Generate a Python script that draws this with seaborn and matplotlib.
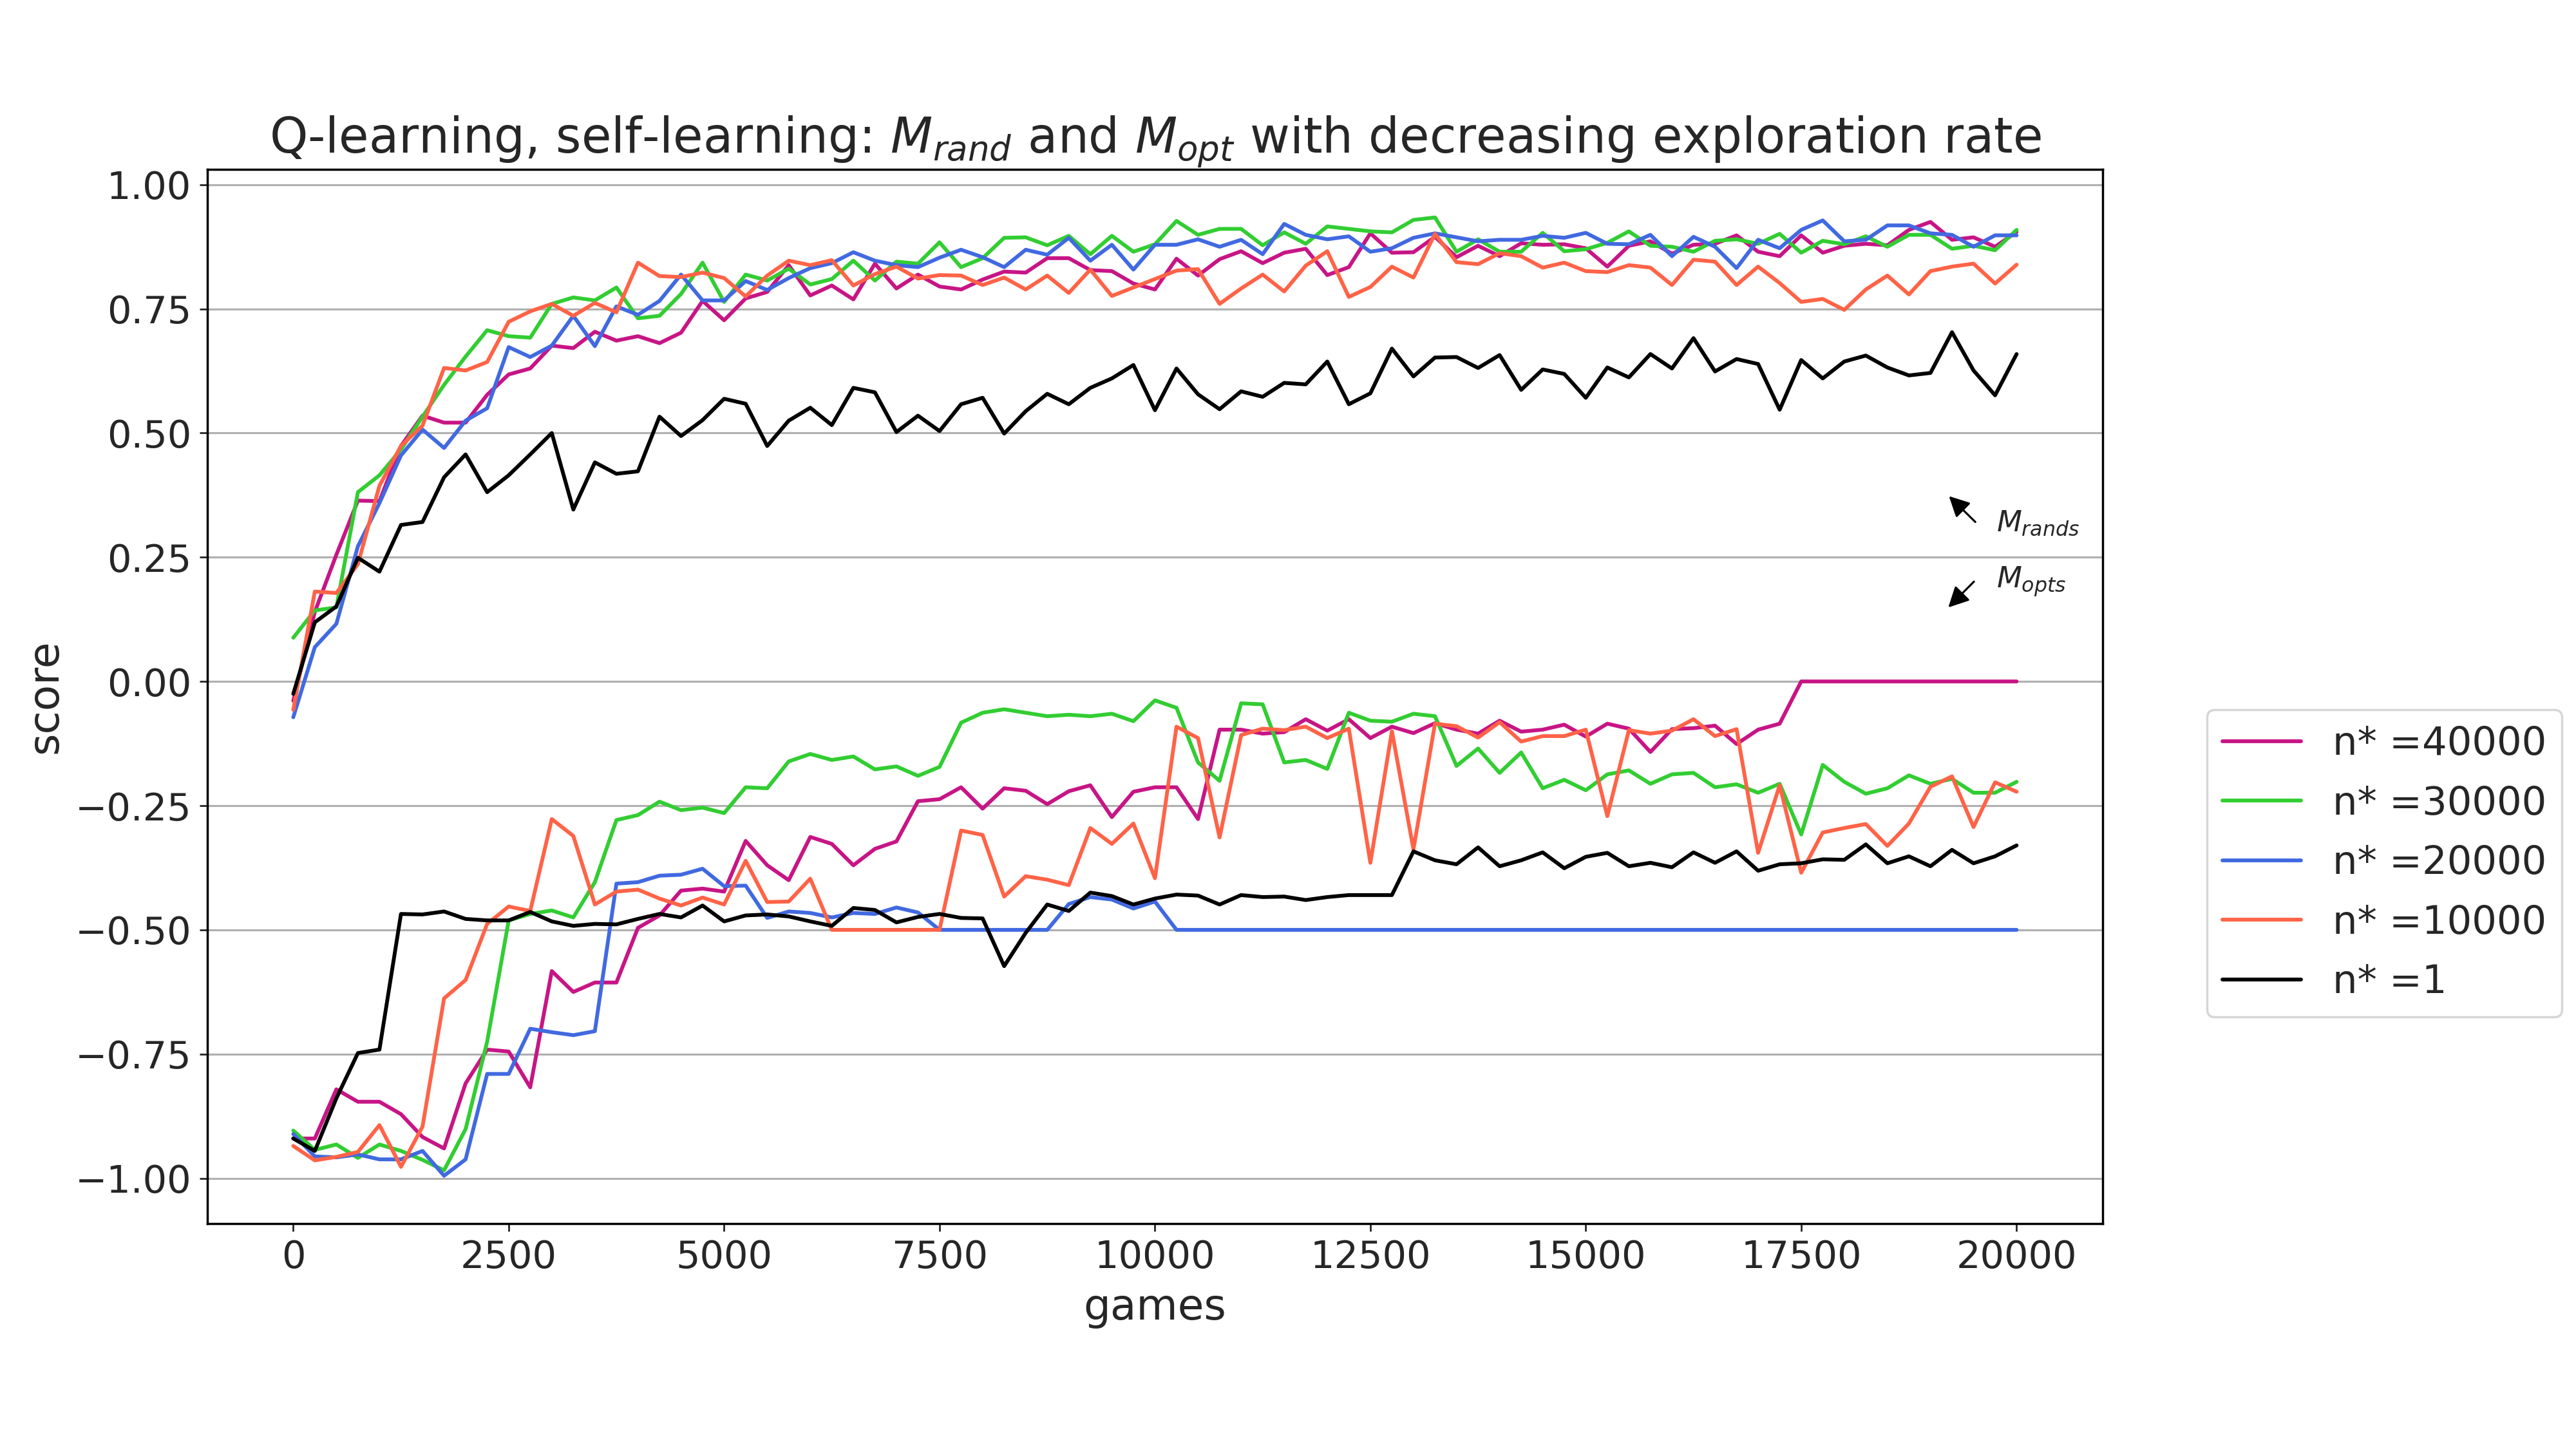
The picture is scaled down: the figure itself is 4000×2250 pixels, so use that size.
import matplotlib
matplotlib.use("Agg")
import matplotlib.pyplot as plt
import seaborn as sns
import pandas as pd

# ===================================================================
# Data: score every 250 games, upper curves = M_rand, lower = M_opt
# ===================================================================

GAMES = list(range(0, 20001, 250))

N_STAR = ["40000", "30000", "20000", "10000", "1"]
COLORS = ["mediumvioletred", "limegreen", "royalblue", "tomato", "black"]

RAND_40000 = [
    -0.039, 0.14, 0.255, 0.364, 0.363, 0.474, 0.535, 0.521, 0.521, 0.577, 0.618, 0.630, 0.676, 0.671,
    0.704, 0.686, 0.695, 0.681, 0.702, 0.766, 0.727, 0.771, 0.784, 0.838, 0.777, 0.797, 0.769,
    0.841, 0.791, 0.819, 0.795, 0.789, 0.809, 0.825, 0.823, 0.852, 0.852, 0.828, 0.826, 0.801, 0.789,
    0.851, 0.817, 0.850, 0.866, 0.842, 0.863, 0.871, 0.818, 0.834, 0.902, 0.863, 0.864, 0.895,
    0.854, 0.877, 0.856, 0.882, 0.879, 0.880, 0.872, 0.835, 0.877, 0.886, 0.861, 0.879, 0.881, 0.898,
    0.865, 0.856, 0.898, 0.863, 0.877, 0.881, 0.878, 0.909, 0.925, 0.889, 0.894, 0.875, 0.905,
]
RAND_30000 = [
    0.088, 0.143, 0.149, 0.381, 0.415, 0.467, 0.533, 0.597, 0.654, 0.707, 0.695, 0.692, 0.760, 0.773,
    0.767, 0.793, 0.731, 0.736, 0.780, 0.843, 0.764, 0.819, 0.807, 0.831, 0.799, 0.810, 0.847,
    0.807, 0.845, 0.841, 0.884, 0.834, 0.852, 0.893, 0.894, 0.878, 0.897, 0.860, 0.897, 0.865, 0.880,
    0.927, 0.899, 0.911, 0.911, 0.878, 0.904, 0.881, 0.916, 0.911, 0.906, 0.904, 0.929, 0.934,
    0.865, 0.890, 0.865, 0.865, 0.903, 0.866, 0.870, 0.883, 0.906, 0.877, 0.875, 0.865, 0.887, 0.890,
    0.881, 0.901, 0.863, 0.887, 0.880, 0.896, 0.875, 0.899, 0.899, 0.871, 0.877, 0.868, 0.909,
]
RAND_20000 = [
    -0.072, 0.069, 0.116, 0.272, 0.359, 0.455, 0.507, 0.470, 0.525, 0.550, 0.673, 0.653, 0.676, 0.736,
    0.675, 0.755, 0.738, 0.766, 0.819, 0.767, 0.767, 0.806, 0.788, 0.812, 0.832, 0.842, 0.864,
    0.847, 0.838, 0.834, 0.853, 0.869, 0.854, 0.834, 0.869, 0.859, 0.893, 0.847, 0.879, 0.829, 0.879,
    0.879, 0.890, 0.875, 0.889, 0.860, 0.921, 0.899, 0.890, 0.896, 0.865, 0.872, 0.893, 0.902,
    0.894, 0.886, 0.889, 0.889, 0.897, 0.893, 0.903, 0.881, 0.880, 0.899, 0.856, 0.895, 0.875, 0.832,
    0.889, 0.872, 0.909, 0.928, 0.886, 0.889, 0.918, 0.918, 0.902, 0.899, 0.875, 0.898, 0.898,
]
RAND_10000 = [
    -0.057, 0.181, 0.178, 0.236, 0.394, 0.474, 0.515, 0.631, 0.626, 0.643, 0.724, 0.745, 0.760, 0.736,
    0.762, 0.743, 0.843, 0.816, 0.814, 0.823, 0.812, 0.775, 0.817, 0.847, 0.838, 0.848, 0.797,
    0.820, 0.835, 0.811, 0.818, 0.817, 0.798, 0.813, 0.789, 0.817, 0.782, 0.829, 0.776, 0.793, 0.810,
    0.827, 0.830, 0.760, 0.791, 0.819, 0.785, 0.837, 0.866, 0.774, 0.794, 0.835, 0.813, 0.901,
    0.844, 0.840, 0.862, 0.856, 0.833, 0.843, 0.826, 0.824, 0.838, 0.833, 0.798, 0.849, 0.845, 0.798,
    0.835, 0.802, 0.764, 0.770, 0.748, 0.789, 0.817, 0.779, 0.826, 0.835, 0.841, 0.801, 0.839,
]
RAND_1 = [
    -0.025, 0.119, 0.151, 0.249, 0.221, 0.315, 0.321, 0.411, 0.457, 0.381, 0.415, 0.457, 0.500, 0.346,
    0.441, 0.418, 0.423, 0.533, 0.494, 0.526, 0.569, 0.559, 0.474, 0.525, 0.551, 0.516, 0.591,
    0.582, 0.502, 0.535, 0.504, 0.558, 0.571, 0.499, 0.544, 0.579, 0.558, 0.591, 0.610, 0.637, 0.546,
    0.630, 0.578, 0.548, 0.584, 0.573, 0.601, 0.598, 0.644, 0.558, 0.580, 0.670, 0.614, 0.652,
    0.653, 0.631, 0.657, 0.587, 0.628, 0.619, 0.571, 0.632, 0.612, 0.659, 0.630, 0.691, 0.624, 0.649,
    0.639, 0.547, 0.647, 0.610, 0.644, 0.656, 0.632, 0.616, 0.621, 0.703, 0.626, 0.576, 0.659,
]

OPT_40000 = [
    -0.920, -0.920, -0.821, -0.846, -0.846, -0.871, -0.917, -0.940, -0.809, -0.741, -0.745, -0.817,
    -0.583, -0.625, -0.606, -0.606, -0.496, -0.471, -0.421, -0.417, -0.423, -0.321, -0.370, -0.400,
    -0.313, -0.327, -0.370,
    -0.337, -0.322, -0.241, -0.237, -0.213, -0.256, -0.215, -0.220, -0.247, -0.221, -0.209, -0.273,
    -0.222, -0.213, -0.213, -0.277, -0.097, -0.097, -0.105, -0.102, -0.076, -0.099, -0.076, -0.114,
    -0.091, -0.104, -0.084,
    -0.097, -0.105, -0.079, -0.101, -0.097, -0.087, -0.111, -0.085, -0.095, -0.142, -0.096, -0.094,
    -0.089, -0.126, -0.097, -0.085, 0.0, 0.0, 0.0, 0.0, 0.0, 0.0, 0.0, 0.0, 0.0, 0.0, 0.0,
]
OPT_30000 = [
    -0.904, -0.943, -0.932, -0.959, -0.932, -0.945, -0.963, -0.984, -0.901, -0.725, -0.481, -0.468,
    -0.461, -0.475, -0.404, -0.279, -0.269, -0.242, -0.259, -0.254, -0.265, -0.213, -0.215, -0.161,
    -0.146, -0.158, -0.151,
    -0.177, -0.171, -0.190, -0.172, -0.083, -0.063, -0.056, -0.063, -0.070, -0.067, -0.070, -0.065,
    -0.080, -0.038, -0.053, -0.163, -0.200, -0.044, -0.046, -0.163, -0.158, -0.176, -0.063, -0.079,
    -0.081, -0.065, -0.070,
    -0.170, -0.135, -0.184, -0.143, -0.215, -0.198, -0.219, -0.187, -0.179, -0.206, -0.187, -0.184,
    -0.213, -0.207, -0.224, -0.206, -0.308, -0.168, -0.202, -0.226, -0.215, -0.189, -0.206, -0.196,
    -0.224, -0.224, -0.202,
]
OPT_20000 = [
    -0.911, -0.956, -0.958, -0.952, -0.962, -0.962, -0.945, -0.995, -0.962, -0.790, -0.790, -0.699,
    -0.706, -0.712, -0.704, -0.407, -0.404, -0.391, -0.389, -0.377, -0.412, -0.411, -0.476, -0.463,
    -0.466, -0.475, -0.466,
    -0.468, -0.455, -0.465, -0.5, -0.5, -0.5, -0.5, -0.5, -0.5, -0.448, -0.434, -0.439, -0.457, -0.443,
    -0.5, -0.5, -0.5, -0.5, -0.5, -0.5, -0.5, -0.5, -0.5, -0.5, -0.5, -0.5, -0.5,
    -0.5, -0.5, -0.5, -0.5, -0.5, -0.5, -0.5, -0.5, -0.5, -0.5, -0.5, -0.5, -0.5, -0.5,
    -0.5, -0.5, -0.5, -0.5, -0.5, -0.5, -0.5, -0.5, -0.5, -0.5, -0.5, -0.5, -0.5,
]
OPT_10000 = [
    -0.935, -0.964, -0.957, -0.947, -0.893, -0.977, -0.896, -0.638, -0.601, -0.488, -0.453, -0.462,
    -0.277, -0.311, -0.449, -0.423, -0.419, -0.437, -0.451, -0.435, -0.449, -0.361, -0.444, -0.443,
    -0.397, -0.5, -0.5,
    -0.5, -0.5, -0.5, -0.5, -0.300, -0.309, -0.433, -0.392, -0.399, -0.410, -0.295, -0.327, -0.286,
    -0.396, -0.091, -0.114, -0.314, -0.108, -0.095, -0.098, -0.091, -0.114, -0.095, -0.365, -0.100,
    -0.338, -0.085,
    -0.090, -0.113, -0.082, -0.121, -0.110, -0.110, -0.097, -0.271, -0.098, -0.105, -0.099, -0.076,
    -0.110, -0.096, -0.345, -0.209, -0.385, -0.304, -0.295, -0.287, -0.331, -0.286, -0.212, -0.191,
    -0.293, -0.203, -0.222,
]
OPT_1 = [
    -0.920, -0.945, -0.839, -0.748, -0.741, -0.468, -0.469, -0.463, -0.478, -0.481, -0.481, -0.464,
    -0.483, -0.492, -0.488, -0.489, -0.478, -0.468, -0.475, -0.451, -0.483, -0.471, -0.469, -0.473,
    -0.483, -0.492, -0.456,
    -0.460, -0.485, -0.474, -0.468, -0.476, -0.477, -0.573, -0.506, -0.449, -0.462, -0.425, -0.432,
    -0.449, -0.437, -0.429, -0.431, -0.449, -0.430, -0.434, -0.433, -0.440, -0.434, -0.430, -0.430,
    -0.430, -0.342, -0.360,
    -0.368, -0.334, -0.372, -0.360, -0.344, -0.376, -0.353, -0.345, -0.372, -0.365, -0.374, -0.344,
    -0.365, -0.342, -0.381, -0.368, -0.366, -0.358, -0.359, -0.328, -0.366, -0.352, -0.372, -0.339,
    -0.366, -0.352, -0.330,
]

RAND = [RAND_40000, RAND_30000, RAND_20000, RAND_10000, RAND_1]
OPT = [OPT_40000, OPT_30000, OPT_20000, OPT_10000, OPT_1]

LINE_W = 1.7


def setup_style():
    sns.set_style("ticks")
    plt.rcParams.update({
        "font.family": ["DejaVu Sans"],
        "axes.edgecolor": "black",
        "axes.linewidth": 1.0,
        "xtick.labelsize": 17,
        "ytick.labelsize": 17,
        "xtick.direction": "out",
        "ytick.direction": "out",
        "axes.labelsize": 19,
        "legend.fontsize": 17.5,
    })


def main():
    setup_style()
    fig, ax = plt.subplots(figsize=(16, 9), dpi=250)
    fig.subplots_adjust(left=0.0804, right=0.8163, top=0.883, bottom=0.1555)

    handles = []
    for n, color, r, o in zip(N_STAR, COLORS, RAND, OPT):
        df = pd.DataFrame({"games": GAMES, "rand": r, "opt": o})
        sns.lineplot(data=df, x="games", y="opt", color=color, linewidth=LINE_W, ax=ax,
                     label=f"n* ={n}")
        sns.lineplot(data=df, x="games", y="rand", color=color, linewidth=LINE_W, ax=ax)
        handles.append(ax.lines[-2])

    ax.grid(axis="y", color="#b0b0b0", linewidth=0.9)
    ax.grid(axis="x", visible=False)
    ax.set_axisbelow(True)
    ax.margins(x=0.05, y=0.05)

    ax.set_xlabel("games", labelpad=5)
    ax.set_ylabel("score")
    ax.set_title(r"Q-learning, self-learning: $M_{rand}$ and $M_{opt}$ with decreasing exploration rate",
                 fontsize=21.8, pad=7)

    # arrows telling which curves are which
    arrow = dict(arrowstyle="-|>,head_width=0.28,head_length=0.55", color="black",
                 lw=0.9, mutation_scale=14, shrinkA=0, shrinkB=0)
    ax.annotate("", xy=(19215, 0.373), xytext=(19521, 0.321), arrowprops=arrow)
    ax.annotate("", xy=(19207, 0.149), xytext=(19505, 0.201), arrowprops=arrow)
    ax.text(19767, 0.302, r"$\mathit{M}_{\mathit{rands}}$", fontsize=13, va="baseline", ha="left")
    ax.text(19767, 0.188, r"$\mathit{M}_{\mathit{opts}}$", fontsize=13, va="baseline", ha="left")

    ax.legend(handles=handles, labels=[f"n* ={n}" for n in N_STAR],
              loc="lower left", bbox_to_anchor=(1.055, 0.196), borderaxespad=0,
              labelspacing=0.55, frameon=True, fancybox=True)

    fig.savefig("out.png", dpi=250, facecolor="white")
    plt.close(fig)


if __name__ == "__main__":
    main()
